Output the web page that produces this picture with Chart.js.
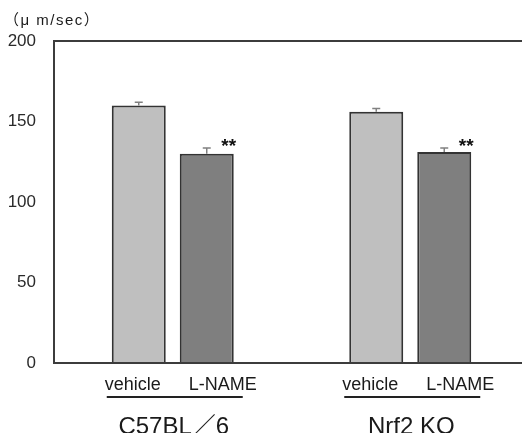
<!DOCTYPE html>
<html>
<head>
<meta charset="utf-8">
<script src="https://cdn.jsdelivr.net/npm/chart.js@4.4.1/dist/chart.umd.min.js"></script>
<style>
  html, body { margin: 0; padding: 0; background: #fff; overflow: hidden; }
  #wrap { position: relative; width: 522px; height: 433px; overflow: hidden; }
  canvas { display: block; }
</style>
</head>
<body>
<div id="wrap"><canvas id="c" width="529" height="433"></canvas></div>
<script>
// ---- data ----
const groups = ["C57BL\uFF0F6", "Nrf2 KO"];
const treatments = ["vehicle", "L-NAME"];
const vehicleMean = [160, 156];
const vehicleErr = [2, 2];
const lnameMean = [130, 131];
const lnameErr = [3.5, 2.5];
const significance = ["", "**"];   // marks for each treatment (applies to every group)
const yTicks = [0, 50, 100, 150, 200];
const unitLabel = "\uFF08\u03BC m/sec\uFF09";

const FONT = '"Liberation Sans", "Noto Sans CJK JP", sans-serif';
const errors = [vehicleErr, lnameErr];

const overlay = {
  id: 'overlay',
  afterDatasetsDraw(chart) {
    const ctx = chart.ctx;
    const a = chart.chartArea;
    const y = chart.scales.y;
    ctx.save();
    // error bars
    chart.data.datasets.forEach((ds, di) => {
      const meta = chart.getDatasetMeta(di);
      meta.data.forEach((bar, i) => {
        const top = y.getPixelForValue(ds.data[i] + errors[di][i]);
        const base = bar.y;
        ctx.strokeStyle = '#808080';
        ctx.lineWidth = 1.5;
        ctx.beginPath();
        ctx.moveTo(bar.x, base);
        ctx.lineTo(bar.x, top);
        ctx.moveTo(bar.x - 4, top);
        ctx.lineTo(bar.x + 4, top);
        ctx.stroke();
        if (significance[di]) {
          ctx.fillStyle = '#111';
          ctx.font = 'bold 19px ' + FONT;
          ctx.textAlign = 'center';
          ctx.textBaseline = 'middle';
          ctx.fillText(significance[di], bar.x + 22, top - 1);
        }
      });
    });
    // frame
    ctx.strokeStyle = '#3c3c3c';
    ctx.lineWidth = 2;
    ctx.beginPath();
    ctx.moveTo(a.right + 5, a.top);
    ctx.lineTo(a.left, a.top);
    ctx.lineTo(a.left, a.bottom);
    ctx.lineTo(a.right + 5, a.bottom);
    ctx.stroke();
    // category labels
    const m0 = chart.getDatasetMeta(0), m1 = chart.getDatasetMeta(1);
    groups.forEach((g, i) => {
      const b0 = m0.data[i], b1 = m1.data[i];
      const c = (b0.x + b1.x) / 2;
      ctx.fillStyle = '#1a1a1a';
      ctx.font = '18px ' + FONT;
      ctx.textAlign = 'center';
      ctx.textBaseline = 'alphabetic';
      ctx.fillText(treatments[0], b0.x - 6, a.bottom + 27);
      ctx.fillText(treatments[1], b1.x + 16, a.bottom + 27);
      ctx.strokeStyle = '#222';
      ctx.lineWidth = 2;
      ctx.beginPath();
      ctx.moveTo(c - 66, a.bottom + 34);
      ctx.lineTo(c + 70, a.bottom + 34);
      ctx.stroke();
      ctx.font = '24px ' + FONT;
      ctx.fillText(g, c + 1, a.bottom + 71);
    });
    // unit label
    ctx.font = '15px ' + FONT;
    ctx.letterSpacing = '1.5px';
    ctx.textAlign = 'left';
    ctx.textBaseline = 'middle';
    ctx.fillText(unitLabel, 4, 21);
    ctx.restore();
  }
};

new Chart(document.getElementById('c'), {
  type: 'bar',
  data: {
    labels: groups,
    datasets: [
      { label: treatments[0], data: vehicleMean, backgroundColor: '#bfbfbf', borderColor: '#333', borderWidth: 2 },
      { label: treatments[1], data: lnameMean, backgroundColor: '#7f7f7f', borderColor: '#333', borderWidth: 2 }
    ]
  },
  options: {
    responsive: false,
    animation: false,
    devicePixelRatio: 1,
    layout: { padding: { top: 41, bottom: 70, left: 0, right: 0 } },
    datasets: { bar: { categoryPercentage: 0.5726, barPercentage: 0.794 } },
    plugins: { legend: { display: false }, tooltip: { enabled: false }, title: { display: false } },
    scales: {
      x: { display: false },
      y: {
        min: 0, max: 200,
        afterBuildTicks(s) { s.ticks = yTicks.map(v => ({ value: v })); },
        afterFit(s) { s.width = 54; },
        grid: { display: false, drawTicks: false },
        border: { display: false },
        ticks: { padding: 18, color: '#2a2a2a', font: { size: 17, family: FONT } }
      }
    }
  },
  plugins: [overlay]
});
</script>
</body>
</html>
